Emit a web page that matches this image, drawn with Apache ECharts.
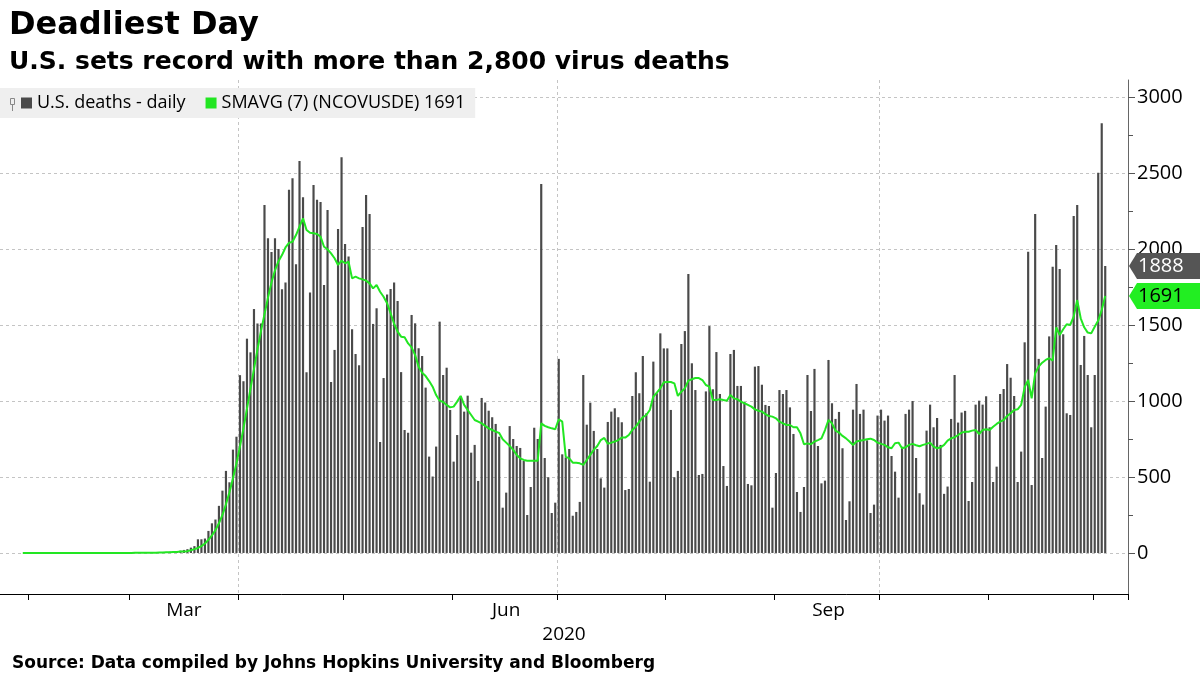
<!DOCTYPE html>
<html><head><meta charset="utf-8">
<script src="https://cdn.jsdelivr.net/npm/echarts@6/dist/echarts.min.js"></script>
<style>html,body{margin:0;padding:0;background:#fff}#c{width:1200px;height:675px}</style>
</head><body><div id="c"></div>
<script>
// ---- data ----
const axisStart = '2020-01-24';
const axisDays = 322;
const dataStart = '2020-01-30';
const dailyDeaths = [
0,0,0,0,0,0,0,0,0,0,0,0,0,0,0,0,0,0,0,0,0,0,0,0,0,0,0,0,0,0,
1,1,4,1,3,1,2,4,3,4,5,7,8,10,12,15,
20,25,35,45,90,90,95,145,195,220,310,410,540,465,680,765,1170,1130,1410,1320,1605,1510,1510,2290,2070,1980,2070,2000,1735,1780,2390,
2465,1900,2579,2340,1189,1713,2421,2324,2309,1763,2257,1125,1336,2132,2603,2033,1950,1472,1309,1235,2145,2355,2230,1507,1610,730,1151,1700,1737,1779,
1658,1190,809,791,1566,1511,1347,1296,1088,634,503,700,1522,1171,1219,941,601,776,1029,930,1035,660,711,474,1020,990,936,893,849,765,
298,397,835,750,704,691,605,250,434,824,750,2428,625,498,263,331,1277,649,629,684,245,270,336,1171,844,989,803,684,491,430,
862,930,952,893,860,414,421,1033,1189,1051,1296,919,469,1259,1051,1445,1346,1346,941,498,540,1375,1460,1836,1248,1072,513,520,1063,1493,
1077,1322,1046,572,441,1309,1336,1099,1099,993,454,445,1226,1230,1107,974,967,298,526,1072,1046,1072,958,783,401,270,434,1171,934,1211,
704,458,476,1270,985,882,928,689,217,340,943,1112,915,943,741,263,318,904,943,871,904,638,535,364,699,915,943,1000,625,393,
318,805,976,827,888,711,389,437,882,1171,858,924,935,342,467,976,1002,976,1031,827,467,568,1046,1079,1243,1153,1033,467,667,1386,
1982,447,2230,1277,625,963,1425,1884,2026,1868,1439,919,908,2217,2289,1237,1428,1171,827,1171,2502,2827,1888
];
const smaDeaths = [
0,0,0,0,0,0,0,0,0,0,0,0,0,0,0,0,0,0,0,0,0,0,0,0,0,0,0,0,0,0,
0,0,1,1,2,2,2,2,2,3,3,4,5,6,7,9,
9,12,18,25,33,45,62,86,115,150,195,250,320,400,490,590,700,820,950,1080,1210,1340,1460,1570,1680,1780,1860,1920,1960,2010,2040,
2048,2092,2147,2202,2125,2107,2103,2099,2081,2015,1998,1971,1939,1895,1923,1906,1917,1807,1818,1807,1800,1792,1774,1741,1763,1719,1686,1643,1577,1508,
1456,1423,1419,1379,1353,1302,1226,1186,1164,1131,1094,1039,1002,993,974,958,963,996,1033,974,941,908,875,864,853,836,820,809,798,790,
748,726,704,678,645,623,612,607,607,607,607,853,836,827,820,814,880,864,634,623,594,594,590,579,612,645,678,704,743,757,
718,726,733,743,759,759,776,809,831,864,893,908,941,1029,1055,1083,1123,1125,1125,1116,1033,1061,1083,1134,1143,1151,1151,1138,1105,1094,
1006,1006,1011,1006,1002,1039,1017,1011,996,985,974,963,945,936,930,914,901,897,886,864,853,842,842,827,827,787,715,721,715,733,
743,754,809,875,853,805,792,770,754,733,711,733,739,743,748,752,743,726,718,711,695,689,722,726,689,695,711,718,709,702,
711,718,726,700,689,695,711,739,754,761,776,792,798,798,805,809,783,809,814,809,831,849,864,875,901,919,941,945,974,1090,
1138,1018,1182,1226,1252,1270,1281,1265,1485,1434,1472,1505,1500,1555,1664,1544,1485,1450,1445,1489,1529,1599,1691
];
const monthLabels = {'2020-03-16':'Mar','2020-06-16':'Jun','2020-09-16':'Sep'};
const quarterLines = ['2020-04-01','2020-07-01','2020-10-01'];
const yearLabel = '2020';
const yTickValues = [0,500,1000,1500,2000,2500,3000];
const yMinorValues = [250,750,1250,1750,2250,2750];
const dailyName = 'U.S. deaths - daily';
const smaName = 'SMAVG (7) (NCOVUSDE) 1691';

// ---- build categories ----
function iso(d){return d.toISOString().slice(0,10);}
const categories = [];
{
  const d0 = new Date(axisStart + 'T00:00:00Z');
  for (let i = 0; i < axisDays; i++) { categories.push(iso(new Date(d0.getTime() + i*86400000))); }
}
const offset = categories.indexOf(dataStart);
function pad(arr){
  const out = categories.map(() => '-');
  arr.forEach((v, i) => { out[offset + i] = v; });
  return out;
}

const FONT = 'Open Sans';
const BOLD = 'DejaVu Sans';
const chart = echarts.init(document.getElementById('c'), null, {renderer:'canvas'});
chart.setOption({
  animation: false,
  backgroundColor: '#fff',
  title: [
    {text:'Deadliest Day', left:4, top:5, textStyle:{fontFamily:BOLD, fontWeight:'bold', fontSize:32, color:'#000'}},
    {text:'U.S. sets record with more than 2,800 virus deaths', left:4, top:45, textStyle:{fontFamily:BOLD, fontWeight:'bold', fontSize:25, color:'#000'}},
    {text:'Source: Data compiled by Johns Hopkins University and Bloomberg', left:7, top:650, textStyle:{fontFamily:BOLD, fontWeight:'bold', fontSize:17, color:'#000'}}
  ],
  legend: {
    left: 0, top: 88, padding: [6, 10, 6, 21], itemGap: 20,
    itemWidth: 11, itemHeight: 11,
    backgroundColor: '#efefef',
    textStyle: {fontFamily: FONT, fontSize: 18, color: '#000'},
    data: [{name: dailyName, icon: 'rect'}, {name: smaName, icon: 'rect'}]
  },
  grid: {left: 0, right: 72, top: 80, bottom: 81, containLabel: false},
  xAxis: {
    type: 'category', data: categories, boundaryGap: true,
    axisLine: {show: true, onZero: false, lineStyle: {color: '#000', width: 1}},
    axisTick: {show: true, inside: false, alignWithLabel: false, interval: (i, v) => v.slice(8) === '01', length: 6, lineStyle: {color: '#000', width: 1}},
    axisLabel: {interval: (i, v) => !!monthLabels[v], formatter: v => monthLabels[v] || '',
      fontFamily: FONT, fontSize: 19, color: '#000', margin: 7},
    splitLine: {show: true, interval: (i, v) => quarterLines.includes(v),
      lineStyle: {color: '#c4c4c4', type: [3, 3], width: 1}},
    name: yearLabel, nameLocation: 'middle', nameGap: 30,
    nameTextStyle: {fontFamily: FONT, fontSize: 19, color: '#000'}
  },
  yAxis: [{
    type: 'value', position: 'right', min: -270, max: 3112,
    axisLine: {show: true, lineStyle: {color: '#666'}},
    axisTick: {show: true, inside: false, length: 7, customValues: yTickValues, lineStyle: {color: '#555', width: 1}},
    axisLabel: {customValues: yTickValues, formatter: v => String(v), fontFamily: FONT, fontSize: 20, color: '#000', margin: 9},
    splitLine: {show: true, lineStyle: {color: '#c4c4c4', type: [3, 3], width: 1}}
  }, {
    type: 'value', position: 'right', min: -270, max: 3112,
    axisLine: {show: false},
    axisTick: {show: true, inside: false, length: 5, customValues: yMinorValues, lineStyle: {color: '#555', width: 1}},
    axisLabel: {show: false, customValues: yMinorValues},
    splitLine: {show: false}
  }],
  series: [{
    name: dailyName, type: 'bar', data: pad(dailyDeaths), yAxisIndex: 0,
    barWidth: '62%', itemStyle: {color: '#4a4a4a'}, silent: true
  }, {
    name: smaName, type: 'line', data: pad(smaDeaths), yAxisIndex: 0,
    showSymbol: false, symbol: 'none', lineStyle: {color: '#22e622', width: 2}, itemStyle: {color: '#22e622'},
    connectNulls: false, silent: true
  }]
});

// ---- value badges on the right axis + legend glyph ----
const lastDaily = dailyDeaths[dailyDeaths.length - 1];
const lastSma = smaDeaths[smaDeaths.length - 1];
const badges = [
  {v: lastDaily, bg: '#555555', fg: '#ffffff'},
  {v: lastSma, bg: '#22ee22', fg: '#000000'}
];
const gx = 1129;
const elems = [];
badges.forEach(b => {
  const y = chart.convertToPixel({yAxisIndex: 0}, b.v);
  elems.push({type: 'polygon', shape: {points: [[gx, y], [gx + 8, y - 13], [1200, y - 13], [1200, y + 13], [gx + 8, y + 13]]},
    style: {fill: b.bg}, z: 100});
  elems.push({type: 'text', x: 1138, y: y, style: {text: String(b.v), fill: b.fg, font: '20px "Open Sans"', verticalAlign: 'middle', align: 'left'}, z: 101});
});
elems.push({type: 'rect', shape: {x: 10.5, y: 98.5, width: 4, height: 6}, style: {fill: 'none', stroke: '#888', lineWidth: 1}, z: 100});
elems.push({type: 'line', shape: {x1: 12.5, y1: 104.5, x2: 12.5, y2: 111}, style: {stroke: '#888', lineWidth: 1}, z: 100});
chart.setOption({graphic: elems});
</script>
</body></html>
